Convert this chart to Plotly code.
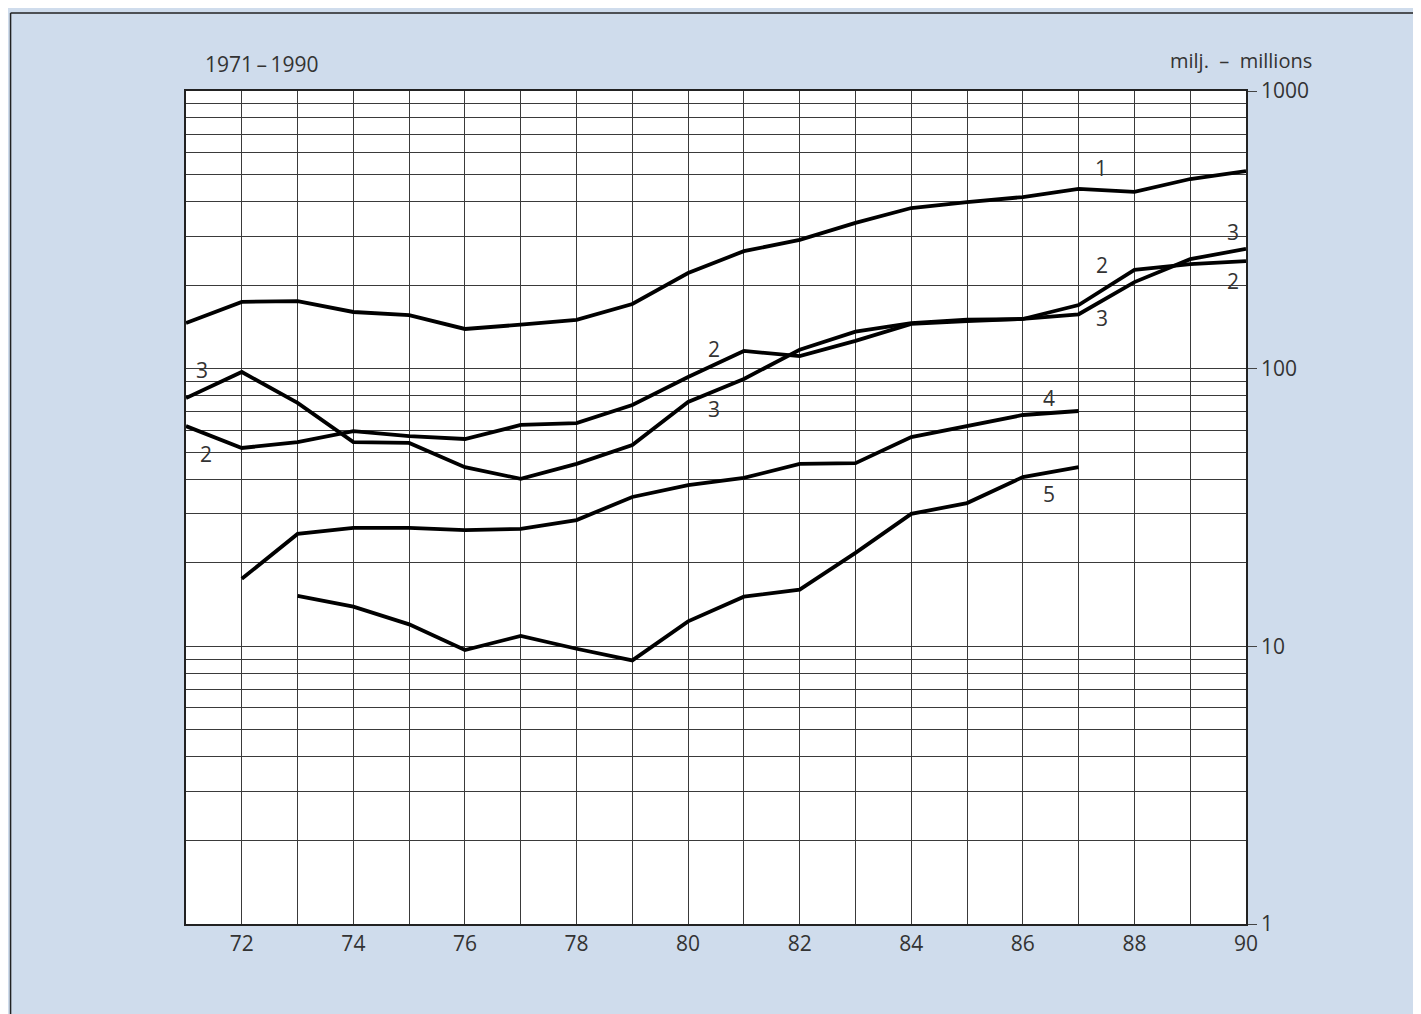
import math
import plotly.graph_objects as go

years = list(range(1971, 1991))

series1 = [146, 174, 175, 160, 156, 139, 144, 150, 171, 221, 265, 291, 335, 379, 398, 415, 444, 433, 482, 515]
series2 = [62.1, 51.8, 54.4, 59.6, 57.2, 55.8, 62.7, 63.7, 74.0, 93.3, 115.8, 111, 126, 145, 148.5, 151, 169.5, 227, 238, 244]
series3 = [78.4, 97.3, 75.3, 54.4, 54.0, 44.2, 40.1, 45.4, 53.1, 75.9, 91.8, 117, 136, 146, 150, 151, 157, 205, 248, 270]
years4 = list(range(1972, 1988))
series4 = [17.5, 25.4, 26.7, 26.7, 26.2, 26.5, 28.5, 34.5, 38.1, 40.4, 45.4, 45.7, 56.7, 62.1, 68.1, 70.4]
years5 = list(range(1973, 1988))
series5 = [15.2, 13.9, 12.0, 9.7, 10.9, 9.8, 8.9, 12.3, 15.1, 16.0, 21.7, 30.0, 32.8, 40.7, 44.2]

# line labels: (text, year, value)
line_labels = [
    ("1", 1987.4, 528), ("2", 1987.42, 236), ("3", 1989.77, 310), ("2", 1989.77, 207),
    ("3", 1987.42, 152), ("2", 1980.46, 118), ("3", 1980.46, 71.6), ("3", 1971.29, 98.9),
    ("2", 1971.36, 49.3), ("4", 1986.47, 78.3), ("5", 1986.47, 35.4),
]

ytick_vals = [1, 10, 100, 1000]
ytick_text = ["1", "10", "100", "1000"]
minor_vals = [m * d for d in (1, 10, 100) for m in range(2, 10)]
xtick_text = [str(y % 100) if y % 2 == 0 else "" for y in years]

FONT = "Open Sans, Liberation Sans, Arial, sans-serif"
TXT = "#333333"
FS = 21

fig = go.Figure()
for xs, ys in [(years, series1), (years, series2), (years, series3), (years4, series4), (years5, series5)]:
    fig.add_trace(go.Scatter(x=xs, y=ys, mode="lines", line=dict(color="black", width=3.8),
                             showlegend=False, hoverinfo="skip"))

for t, x, v in line_labels:
    fig.add_annotation(x=x, y=math.log10(v), text=t, showarrow=False,
                       font=dict(family=FONT, size=FS, color=TXT))

fig.update_layout(
    width=1421, height=1014,
    margin=dict(l=178, r=183, t=83, b=98),
    paper_bgcolor="#cfdcec",
    plot_bgcolor="white",
    font=dict(family=FONT, size=FS, color=TXT),
    xaxis=dict(range=[1971, 1990], tickvals=years, ticktext=xtick_text,
               showgrid=True, gridcolor="#3a3a3a", gridwidth=1,
               showline=True, linecolor="#222222", linewidth=1.5, mirror=True,
               ticks="", zeroline=False, tickfont=dict(size=FS, color=TXT)),
    yaxis=dict(type="log", range=[0, 3], side="right", tickvals=ytick_vals, ticktext=ytick_text,
               showgrid=True, gridcolor="#3a3a3a", gridwidth=1,
               minor=dict(tickvals=minor_vals, showgrid=True, gridcolor="#3a3a3a", gridwidth=1, ticks=""),
               showline=True, linecolor="#222222", linewidth=1.5, mirror=True,
               ticks="outside", ticklen=9, tickcolor="#444444", tickwidth=1,
               zeroline=False, tickfont=dict(size=FS, color=TXT)),
)

fig.add_annotation(xref="paper", yref="paper", x=0.016, y=1.0, yshift=11, xanchor="left", yanchor="bottom",
                   text="1971\u2009\u2013\u20091990", showarrow=False, font=dict(family=FONT, size=FS, color=TXT))
fig.add_annotation(xref="paper", yref="paper", x=1.064, y=1.0, yshift=15, xanchor="right", yanchor="bottom",
                   text="milj.  \u2013  millions", showarrow=False, font=dict(family=FONT, size=FS - 1, color=TXT))

# frame lines of the scanned page (top and left)
fig.add_shape(type="line", xref="paper", yref="paper", x0=-0.1655, x1=1.2, y0=1.0936, y1=1.0936,
              line=dict(color="#222222", width=1.5))
fig.add_shape(type="line", xref="paper", yref="paper", x0=-0.1655, x1=-0.1655, y0=-0.2, y1=1.0936,
              line=dict(color="#222222", width=1.5))

fig.write_html("out.html")
